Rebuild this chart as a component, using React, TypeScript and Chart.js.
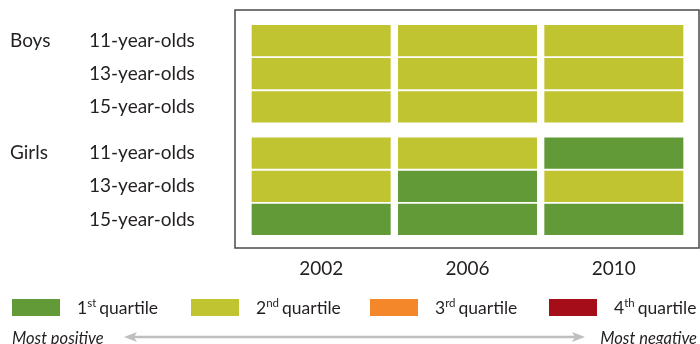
import React, { useEffect, useRef } from 'react';
import { Chart, registerables } from 'chart.js';

Chart.register(...registerables);

// ---- data ----
const years = ['2002', '2006', '2010'];
const groups = ['Boys', 'Girls'];
const ageLabels = ['11-year-olds', '13-year-olds', '15-year-olds'];
// quartile (1..4) per age row, per year column
const boysQuartiles = [
  [2, 2, 2],
  [2, 2, 2],
  [2, 2, 2],
];
const girlsQuartiles = [
  [2, 2, 1],
  [2, 1, 2],
  [1, 1, 1],
];
const quartileNumbers = ['1', '2', '3', '4'];
const quartileSuffixes = ['st', 'nd', 'rd', 'th'];
const quartileWord = 'quartile';
const quartileColors = ['#639a38', '#c0c431', '#f3872a', '#a50d18'];
const scaleLeftText = 'Most positive';
const scaleRightText = 'Most negative';

// ---- layout / style ----
const FONT = 'Lato, "Open Sans", sans-serif';
const TEXT = '#231f20';
const GROUP_GAP = 0.4;
const HALF = 0.47;

const groupData = [boysQuartiles, girlsQuartiles];
const rows: { group: number; age: number; pos: number; q: number[] }[] = [];
groupData.forEach((g, gi) =>
  g.forEach((q, ai) => rows.push({ group: gi, age: ai, pos: gi * (ageLabels.length + GROUP_GAP) + ai, q }))
);

const decorPlugin = {
  id: 'decor',
  afterDraw(chart: any) {
    const { ctx, chartArea, scales } = chart;
    const y = scales.y;
    ctx.save();
    // frame
    ctx.strokeStyle = '#4a4a4a';
    ctx.lineWidth = 1.5;
    ctx.strokeRect(chartArea.left - 13, chartArea.top - 14, chartArea.right - chartArea.left + 25, chartArea.bottom - chartArea.top + 26);
    // group labels
    ctx.fillStyle = TEXT;
    ctx.font = `19px ${FONT}`;
    ctx.textAlign = 'left';
    ctx.textBaseline = 'middle';
    groups.forEach((g, gi) => {
      const first = rows.find((r) => r.group === gi)!;
      ctx.fillText(g, 10, y.getPixelForValue(first.pos));
    });
    // legend
    const ly = 299;
    quartileColors.forEach((c, i) => {
      const x = 12 + i * 179;
      ctx.fillStyle = c;
      ctx.fillRect(x, ly, 48, 17);
      ctx.fillStyle = TEXT;
      ctx.textBaseline = 'alphabetic';
      ctx.font = `17.5px ${FONT}`;
      let tx = x + 65;
      const base = ly + 15;
      ctx.fillText(quartileNumbers[i], tx, base);
      tx += ctx.measureText(quartileNumbers[i]).width;
      ctx.font = `11.5px ${FONT}`;
      ctx.fillText(quartileSuffixes[i], tx, base - 7);
      tx += ctx.measureText(quartileSuffixes[i]).width + 3;
      ctx.font = `17.5px ${FONT}`;
      ctx.fillText(quartileWord, tx, base);
    });
    // arrow
    const ay = 337;
    const ax1 = 124;
    const ax2 = 585;
    ctx.strokeStyle = '#bfbfbf';
    ctx.fillStyle = '#bfbfbf';
    ctx.lineWidth = 2.5;
    ctx.beginPath();
    ctx.moveTo(ax1 + 8, ay);
    ctx.lineTo(ax2 - 8, ay);
    ctx.stroke();
    ctx.beginPath();
    ctx.moveTo(ax1, ay);
    ctx.lineTo(ax1 + 13, ay - 5);
    ctx.lineTo(ax1 + 10, ay);
    ctx.lineTo(ax1 + 13, ay + 5);
    ctx.closePath();
    ctx.fill();
    ctx.beginPath();
    ctx.moveTo(ax2, ay);
    ctx.lineTo(ax2 - 13, ay - 5);
    ctx.lineTo(ax2 - 10, ay);
    ctx.lineTo(ax2 - 13, ay + 5);
    ctx.closePath();
    ctx.fill();
    ctx.fillStyle = TEXT;
    ctx.font = `italic 16.5px ${FONT}`;
    ctx.textBaseline = 'alphabetic';
    ctx.textAlign = 'left';
    ctx.fillText(scaleLeftText, 12, 344);
    ctx.textAlign = 'right';
    ctx.fillText(scaleRightText, 697, 344);
    ctx.restore();
  },
};

export default function App() {
  const ref = useRef<HTMLCanvasElement>(null);
  useEffect(() => {
    if (!ref.current) return;
    const chart = new Chart(ref.current, {
      type: 'bar',
      data: {
        labels: years,
        datasets: rows.map((r) => ({
          label: `${groups[r.group]} ${ageLabels[r.age]}`,
          data: r.q.map(() => [r.pos - HALF, r.pos + HALF]) as any,
          backgroundColor: r.q.map((q) => quartileColors[q - 1]),
          borderWidth: 0,
          grouped: false,
          categoryPercentage: 1,
          barPercentage: 0.95,
        })),
      },
      options: {
        responsive: false,
        animation: false,
        layout: { padding: { left: 89, right: 13, top: 24, bottom: 0 } },
        plugins: { legend: { display: false }, tooltip: { enabled: false } },
        scales: {
          x: {
            type: 'category',
            grid: { display: false, drawTicks: false },
            border: { display: false },
            ticks: { color: TEXT, font: { family: FONT, size: 19 }, padding: 21 },
            afterFit: (s: any) => {
              s.height = 108;
            },
          },
          y: {
            type: 'linear',
            reverse: true,
            min: -0.5,
            max: rows[rows.length - 1].pos + 0.5,
            grid: { display: false, drawTicks: false },
            border: { display: false },
            afterBuildTicks: (s: any) => {
              s.ticks = rows.map((r) => ({ value: r.pos }));
            },
            ticks: {
              crossAlign: 'far',
              color: TEXT,
              font: { family: FONT, size: 19 },
              callback: (_v: any, i: number) => ageLabels[rows[i].age],
            },
            afterFit: (s: any) => {
              s.width = 159;
            },
          },
        },
      },
      plugins: [decorPlugin],
    });
    return () => chart.destroy();
  }, []);
  return (
    <div style={{ position: 'absolute', left: 0, top: 0, width: 700, height: 344 }}>
      <canvas ref={ref} width={700} height={344} style={{ width: 700, height: 344 }} />
    </div>
  );
}
